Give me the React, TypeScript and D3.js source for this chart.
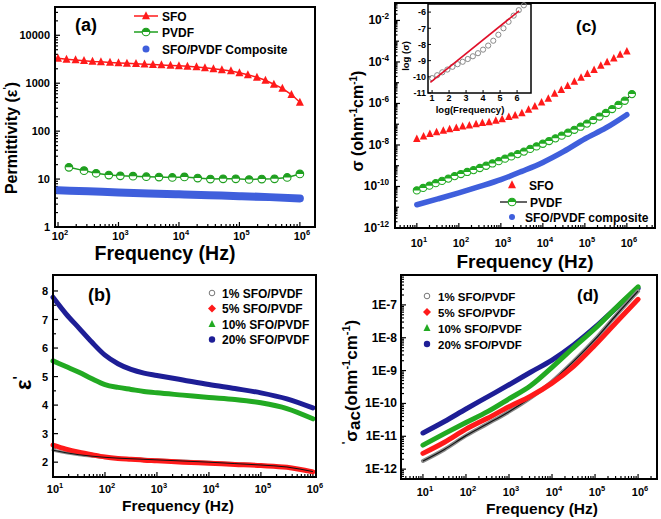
import React from "react";
import * as d3 from "d3";

const FONT = "'Liberation Sans', Arial, Helvetica, sans-serif";
const RED = "#ff1a1a";
const GREEN = "#1f9f1f";
const GREEN2 = "#22aa22";
const NAVY = "#1e1e96";
const BLUE = "#3f5fdc";

// ---------- (a) permittivity ----------
const aSfoLogF = [2.0, 2.14, 2.29, 2.43, 2.57, 2.71, 2.86, 3.0, 3.14, 3.29, 3.43, 3.57, 3.71, 3.86, 4.0, 4.14, 4.29, 4.43, 4.57, 4.71, 4.86, 5.0, 5.14, 5.29, 5.43, 5.57, 5.71, 5.86, 6.0];
const aSfoEps = [3300, 3150, 3050, 2950, 2850, 2800, 2720, 2650, 2600, 2550, 2500, 2450, 2400, 2350, 2300, 2250, 2180, 2100, 2000, 1900, 1800, 1650, 1500, 1330, 1150, 950, 780, 580, 400];
const aPvdfLogF = [2.18, 2.43, 2.63, 2.84, 3.03, 3.24, 3.46, 3.67, 3.89, 4.09, 4.31, 4.52, 4.73, 4.94, 5.16, 5.37, 5.58, 5.79, 6.0];
const aPvdfEps = [17.6, 15, 13.2, 12.1, 11.7, 11.5, 11.2, 11, 10.8, 11.1, 10.5, 10, 10.1, 10.1, 9.8, 10, 10.1, 10.8, 12.8];
const aCompLogF = [2, 2.5, 3, 3.5, 4, 4.5, 5, 5.5, 6];
const aCompEps = [5.85, 5.55, 5.25, 5.0, 4.8, 4.6, 4.4, 4.2, 3.95];
const aLegend = ["SFO", "PVDF", "SFO/PVDF Composite"];

// ---------- (c) conductivity ----------
const cSfoLogF = [1.0, 1.16, 1.31, 1.47, 1.63, 1.78, 1.94, 2.09, 2.25, 2.41, 2.56, 2.72, 2.88, 3.03, 3.19, 3.34, 3.5, 3.66, 3.81, 3.97, 4.13, 4.28, 4.44, 4.59, 4.75, 4.91, 5.06, 5.22, 5.38, 5.53, 5.69, 5.84, 6.0];
const cSfoLogS = [-7.71, -7.59, -7.47, -7.38, -7.31, -7.23, -7.17, -7.1, -7.06, -6.99, -6.94, -6.9, -6.83, -6.75, -6.65, -6.57, -6.46, -6.3, -6.14, -5.95, -5.76, -5.53, -5.34, -5.15, -4.95, -4.76, -4.57, -4.38, -4.18, -4.01, -3.83, -3.65, -3.49];
const cPvdfLogF = [1.0, 1.15, 1.3, 1.45, 1.6, 1.75, 1.9, 2.05, 2.2, 2.35, 2.5, 2.65, 2.8, 2.95, 3.1, 3.25, 3.4, 3.55, 3.7, 3.85, 4.0, 4.15, 4.3, 4.45, 4.6, 4.75, 4.9, 5.05, 5.2, 5.35, 5.5, 5.65, 5.8, 5.95, 6.12];
const cPvdfLogS = [-10.19, -10.07, -9.96, -9.84, -9.73, -9.62, -9.5, -9.4, -9.3, -9.21, -9.11, -9.0, -8.89, -8.78, -8.66, -8.55, -8.44, -8.32, -8.19, -8.07, -7.94, -7.81, -7.68, -7.55, -7.41, -7.27, -7.12, -6.97, -6.8, -6.63, -6.46, -6.27, -6.07, -5.87, -5.55];
const cCompLogF = [1, 1.5, 2, 2.5, 3, 3.5, 4, 4.5, 5, 5.5, 6];
const cCompLogS = [-10.88, -10.6, -10.31, -10.0, -9.67, -9.27, -8.84, -8.31, -7.71, -7.18, -6.54];
const cLegend = ["SFO", "PVDF", "SFO/PVDF composite"];

// inset
const inLogF = [1.0, 1.3, 1.6, 1.9, 2.2, 2.5, 2.8, 3.1, 3.4, 3.7, 4.0, 4.3, 4.6, 4.9, 5.2, 5.5, 5.8, 6.1, 6.4];
const inLogS = [-10.08, -9.9, -9.72, -9.55, -9.38, -9.22, -9.07, -8.9, -8.73, -8.54, -8.32, -8.07, -7.77, -7.4, -7.0, -6.6, -6.22, -5.88, -5.58];
const inFitLogF = [0.9, 6.12];
const inFitLogS = [-10.35, -5.92];
const inXTicks = [1, 2, 3, 4, 5, 6];
const inYTicks = [-11, -10, -9, -8, -7, -6];

// ---------- (b) epsilon' ----------
const bLogF = [1, 1.25, 1.5, 1.75, 2, 2.25, 2.5, 2.75, 3, 3.5, 4, 4.5, 5, 5.5, 6];
const b1 = [2.42, 2.33, 2.26, 2.21, 2.17, 2.14, 2.12, 2.1, 2.08, 2.04, 2.0, 1.95, 1.9, 1.83, 1.67];
const b5 = [2.6, 2.46, 2.35, 2.26, 2.18, 2.13, 2.1, 2.07, 2.05, 2.0, 1.96, 1.92, 1.88, 1.82, 1.66];
const b10 = [5.55, 5.35, 5.15, 4.92, 4.72, 4.62, 4.55, 4.48, 4.43, 4.35, 4.27, 4.2, 4.08, 3.88, 3.52];
const b20 = [7.78, 7.2, 6.7, 6.2, 5.75, 5.45, 5.25, 5.12, 5.04, 4.88, 4.72, 4.58, 4.43, 4.22, 3.9];
const bYTicks = [2, 3, 4, 5, 6, 7, 8];
const compLegend = ["1% SFO/PVDF", "5% SFO/PVDF", "10% SFO/PVDF", "20% SFO/PVDF"];

// ---------- (d) sigma_ac ----------
const dLogF = [1, 1.5, 2, 2.5, 3, 3.5, 4, 4.5, 5, 5.5, 6];
const d1 = [-11.75, -11.4, -10.98, -10.62, -10.25, -9.83, -9.33, -8.72, -8.05, -7.3, -6.58];
const d5 = [-11.52, -11.18, -10.78, -10.45, -10.1, -9.78, -9.38, -8.87, -8.22, -7.52, -6.83];
const d10 = [-11.27, -10.92, -10.58, -10.25, -9.86, -9.46, -8.9, -8.3, -7.72, -7.07, -6.45];
const d20 = [-10.9, -10.55, -10.17, -9.8, -9.43, -9.05, -8.68, -8.22, -7.68, -7.08, -6.5];
const dYTicks = [-12, -11, -10, -9, -8, -7];

// ---------- helpers ----------
function logTicks(lo: number, hi: number) {
  const majors: number[] = [];
  const minors: number[] = [];
  const a = Math.floor(Math.log10(lo)) - 1;
  const b = Math.ceil(Math.log10(hi)) + 1;
  for (let d = a; d <= b; d++) {
    const p = Math.pow(10, d);
    if (p >= lo * 0.999 && p <= hi * 1.001) majors.push(d);
    for (let k = 2; k <= 9; k++) {
      const v = k * p;
      if (v > lo && v < hi) minors.push(v);
    }
  }
  return { majors, minors };
}

function XTicks({ scale, y0, vals, len }: any) {
  return (
    <g>
      {vals.map((v: number, i: number) => (
        <line key={i} x1={scale(v)} x2={scale(v)} y1={y0} y2={y0 - len} stroke="#000" strokeWidth={1.2} />
      ))}
    </g>
  );
}
function YTicks({ scale, x0, vals, len }: any) {
  return (
    <g>
      {vals.map((v: number, i: number) => (
        <line key={i} x1={x0} x2={x0 + len} y1={scale(v)} y2={scale(v)} stroke="#000" strokeWidth={1.2} />
      ))}
    </g>
  );
}
function Pow({ x, y, exp, size, anchor }: any) {
  return (
    <text x={x} y={y} fontSize={size} textAnchor={anchor || "middle"}>
      10
      <tspan dy={-size * 0.45} fontSize={size * 0.68}>
        {exp}
      </tspan>
    </text>
  );
}
function Tri({ cx, cy, s, color }: any) {
  return <path d={`M${cx},${cy - s * 0.58}L${cx + s / 2},${cy + s * 0.42}L${cx - s / 2},${cy + s * 0.42}Z`} fill={color} />;
}
function Half({ cx, cy, r, color }: any) {
  return (
    <g>
      <circle cx={cx} cy={cy} r={r} fill="#fff" stroke={color} strokeWidth={1.1} />
      <path d={`M${cx - r},${cy}A${r},${r} 0 0 1 ${cx + r},${cy}Z`} fill={color} />
    </g>
  );
}
function Frame({ L, R, T, B }: any) {
  return <rect x={L} y={T} width={R - L} height={B - T} fill="none" stroke="#000" strokeWidth={2} />;
}
const smooth = (pts: [number, number][]) => d3.line().curve(d3.curveMonotoneX)(pts) || "";
const straight = (pts: [number, number][]) => d3.line()(pts) || "";

// ---------- panel (a) ----------
function PanelA() {
  const L = 55, R = 315, T = 7, B = 227;
  const x = d3.scaleLog().domain([10 ** 1.95, 10 ** 6.25]).range([L, R]);
  const y = d3.scaleLog().domain([1, 10 ** 4.59]).range([B, T]);
  const xt = logTicks(10 ** 1.95, 10 ** 6.25);
  const yt = logTicks(1, 10 ** 4.59);
  const sfo: [number, number][] = aSfoLogF.map((f, i) => [x(10 ** f), y(aSfoEps[i])]);
  const pv: [number, number][] = aPvdfLogF.map((f, i) => [x(10 ** f), y(aPvdfEps[i])]);
  const cp: [number, number][] = aCompLogF.map((f, i) => [x(10 ** f), y(aCompEps[i])]);
  return (
    <g>
      <XTicks scale={x} y0={B} vals={xt.majors.map((e) => 10 ** e)} len={5} />
      <XTicks scale={x} y0={B} vals={xt.minors} len={3} />
      <YTicks scale={y} x0={L} vals={yt.majors.map((e) => 10 ** e)} len={5} />
      <YTicks scale={y} x0={L} vals={yt.minors} len={3} />
      <path d={smooth(cp)} stroke={BLUE} strokeWidth={8} fill="none" strokeLinecap="round" />
      <path d={straight(pv)} stroke={GREEN} strokeWidth={1.5} fill="none" />
      {pv.map((p, i) => <Half key={i} cx={p[0]} cy={p[1]} r={3.8} color={GREEN} />)}
      <path d={straight(sfo)} stroke={RED} strokeWidth={1.5} fill="none" />
      {sfo.map((p, i) => <Tri key={i} cx={p[0]} cy={p[1]} s={8} color={RED} />)}
      <Frame L={L} R={R} T={T} B={B} />
      {xt.majors.map((e) => <Pow key={e} x={x(10 ** e) + 2} y={240} exp={e} size={11} />)}
      {yt.majors.map((e) => (
        <text key={e} x={50} y={y(10 ** e) + 4} fontSize={11} textAnchor="end">{String(10 ** e)}</text>
      ))}
      <text x={165} y={260} fontSize={19.5} textAnchor="middle">Frequency (Hz)</text>
      <text transform="translate(17,138) rotate(-90)" fontSize={16} textAnchor="middle">
        Permittivity (ε<tspan dy={-6} fontSize={10}>'</tspan><tspan dy={6}>)</tspan>
      </text>
      <text x={75} y={31} fontSize={18}>(a)</text>
      {/* legend */}
      <line x1={134} x2={158} y1={16} y2={16} stroke={RED} strokeWidth={1.5} />
      <Tri cx={146} cy={16} s={8} color={RED} />
      <line x1={134} x2={158} y1={32} y2={32} stroke={GREEN} strokeWidth={1.5} />
      <Half cx={146} cy={32} r={3.8} color={GREEN} />
      <circle cx={146} cy={49} r={3.5} fill={BLUE} />
      {aLegend.map((t, i) => (
        <text key={t} x={162} y={[16, 32, 49][i] + 4.5} fontSize={12}>{t}</text>
      ))}
    </g>
  );
}

// ---------- panel (c) ----------
function PanelC() {
  const L = 395, R = 655, T = 3, B = 228;
  const x = d3.scaleLog().domain([10 ** 0.48, 10 ** 6.67]).range([L, R]);
  const y = d3.scaleLog().domain([1e-12, 10 ** -1.16]).range([B, T]);
  const xt = logTicks(10 ** 0.48, 10 ** 6.67);
  const yt = logTicks(1e-12, 10 ** -1.16);
  const yLab = yt.majors.filter((e) => e % 2 === 0);
  const yOdd = yt.majors.filter((e) => e % 2 !== 0);
  const sfo: [number, number][] = cSfoLogF.map((f, i) => [x(10 ** f), y(10 ** cSfoLogS[i])]);
  const pv: [number, number][] = cPvdfLogF.map((f, i) => [x(10 ** f), y(10 ** cPvdfLogS[i])]);
  const cp: [number, number][] = cCompLogF.map((f, i) => [x(10 ** f), y(10 ** cCompLogS[i])]);
  // inset
  const iL = 428, iR = 531, iT = 4, iB = 93;
  const ix = d3.scaleLinear().domain([0.76, 6.82]).range([iL, iR]);
  const iy = d3.scaleLinear().domain([-11, -5.5]).range([iB, iT]);
  return (
    <g>
      <XTicks scale={x} y0={B} vals={xt.majors.map((e) => 10 ** e)} len={5} />
      <XTicks scale={x} y0={B} vals={xt.minors} len={3} />
      <YTicks scale={y} x0={L} vals={yLab.map((e) => 10 ** e)} len={5} />
      <YTicks scale={y} x0={L} vals={yOdd.map((e) => 10 ** e)} len={4} />
      <YTicks scale={y} x0={L} vals={yt.minors} len={2.5} />
      <path d={smooth(cp)} stroke={BLUE} strokeWidth={5.5} fill="none" strokeLinecap="round" />
      <path d={straight(pv)} stroke="#111" strokeWidth={1.1} fill="none" />
      {pv.map((p, i) => <Half key={i} cx={p[0]} cy={p[1]} r={3.6} color={GREEN2} />)}
      {sfo.map((p, i) => <Tri key={i} cx={p[0]} cy={p[1]} s={7.5} color={RED} />)}
      <Frame L={L} R={R} T={T} B={B} />
      {xt.majors.map((e) => <Pow key={e} x={x(10 ** e) + 2} y={247} exp={e} size={11} />)}
      {yLab.map((e) => <Pow key={e} x={389} y={y(10 ** e) + 4} exp={e} size={12} anchor="end" />)}
      <text x={525} y={268} fontSize={19} textAnchor="middle">Frequency (Hz)</text>
      <text transform="translate(363,121) rotate(-90)" fontSize={16} textAnchor="middle">
        σ (ohm<tspan dy={-6} fontSize={10}>-1</tspan><tspan dy={6}>cm</tspan>
        <tspan dy={-6} fontSize={10}>-1</tspan><tspan dy={6}>)</tspan>
      </text>
      <text x={576} y={32} fontSize={17}>(c)</text>
      {/* legend */}
      <Tri cx={512} cy={185} s={8} color={RED} />
      <line x1={500} x2={527} y1={202} y2={202} stroke="#111" strokeWidth={1.3} />
      <Half cx={512} cy={202} r={3.8} color={GREEN2} />
      <circle cx={512} cy={217} r={3} fill={BLUE} />
      {cLegend.map((t, i) => (
        <text key={t} x={[529, 530, 525][i]} y={[185, 202, 217][i] + 4.5} fontSize={12}>{t}</text>
      ))}
      {/* inset */}
      <rect x={iL} y={iT} width={iR - iL} height={iB - iT} fill="#fff" stroke="#000" strokeWidth={1.5} />
      {inXTicks.map((v) => (
        <line key={v} x1={ix(v)} x2={ix(v)} y1={iB} y2={iB - 3} stroke="#000" strokeWidth={1} />
      ))}
      {inYTicks.map((v) => (
        <line key={v} x1={iL} x2={iL + 3} y1={iy(v)} y2={iy(v)} stroke="#000" strokeWidth={1} />
      ))}
      {inLogF.map((f, i) => (
        <circle key={i} cx={ix(f)} cy={iy(inLogS[i])} r={2.6} fill="none" stroke="#8a8a8a" strokeWidth={1} />
      ))}
      <path d={straight(inFitLogF.map((f, i) => [ix(f), iy(inFitLogS[i])] as [number, number]))} stroke="#e0102a" strokeWidth={1.6} fill="none" />
      {inXTicks.map((v) => (
        <text key={v} x={ix(v)} y={100.5} fontSize={9} textAnchor="middle">{v}</text>
      ))}
      {inYTicks.map((v) => (
        <text key={v} x={426} y={iy(v) + 3.3} fontSize={9} textAnchor="end">{v}</text>
      ))}
      <text x={470} y={113} fontSize={9.5} textAnchor="middle">log(Frequency)</text>
      <text transform="translate(409,56) rotate(-90)" fontSize={9.5} textAnchor="middle">log (σ)</text>
    </g>
  );
}

// ---------- panel (b) ----------
function PanelB() {
  const L = 53, R = 316, T = 275, B = 477;
  const x = d3.scaleLog().domain([10, 10 ** 6.06]).range([L, R]);
  const y = d3.scaleLinear().domain([1.48, 8.56]).range([B, T]);
  const xt = logTicks(10, 10 ** 6.06);
  const pts = (vals: number[]) => bLogF.map((f, i) => [x(10 ** f), y(vals[i])] as [number, number]);
  const yMin = bYTicks.slice(0, -1).map((v) => v + 0.5);
  const ly = [293, 308.5, 324, 339.5];
  return (
    <g>
      <XTicks scale={x} y0={B} vals={xt.majors.map((e) => 10 ** e)} len={5} />
      <XTicks scale={x} y0={B} vals={xt.minors} len={3} />
      <YTicks scale={y} x0={L} vals={bYTicks} len={5} />
      <YTicks scale={y} x0={L} vals={yMin} len={3} />
      <path d={smooth(pts(b20))} stroke={NAVY} strokeWidth={5} fill="none" strokeLinecap="round" />
      <path d={smooth(pts(b10))} stroke={GREEN2} strokeWidth={5} fill="none" strokeLinecap="round" />
      <path d={smooth(pts(b1))} stroke="#888" strokeWidth={3} fill="none" strokeLinecap="round" />
      <path d={smooth(pts(b5))} stroke={RED} strokeWidth={5} fill="none" strokeLinecap="round" />
      <path d={smooth(pts(b1))} stroke="#111" strokeWidth={1} fill="none" />
      <Frame L={L} R={R} T={T} B={B} />
      {xt.majors.map((e) => <Pow key={e} x={x(10 ** e) + 2} y={492.5} exp={e} size={11} />)}
      {bYTicks.map((v) => (
        <text key={v} x={48} y={y(v) + 4} fontSize={11} textAnchor="end">{v}</text>
      ))}
      <text x={178} y={511} fontSize={15.5} textAnchor="middle">Frequency (Hz)</text>
      <text transform="translate(31,383) rotate(-90)" fontSize={22} textAnchor="middle">
        ε<tspan dy={-8} fontSize={14}>'</tspan>
      </text>
      <text x={88} y={301} fontSize={18}>(b)</text>
      <circle cx={212} cy={ly[0]} r={2.8} fill="#fff" stroke="#777" strokeWidth={1} />
      <path d={`M212,${ly[1] - 4}L216,${ly[1]}L212,${ly[1] + 4}L208,${ly[1]}Z`} fill={RED} />
      <Tri cx={212} cy={ly[2]} s={7} color={GREEN2} />
      <circle cx={212} cy={ly[3]} r={3.2} fill={NAVY} />
      {compLegend.map((t, i) => (
        <text key={t} x={222} y={ly[i] + 4.5} fontSize={12}>{t}</text>
      ))}
    </g>
  );
}

// ---------- panel (d) ----------
function PanelD() {
  const L = 401, R = 657, T = 275, B = 479;
  const x = d3.scaleLog().domain([10 ** 0.49, 10 ** 6.44]).range([L, R]);
  const y = d3.scaleLog().domain([10 ** -12.3, 10 ** -6.09]).range([B, T]);
  const xt = logTicks(10 ** 0.49, 10 ** 6.44);
  const yt = logTicks(10 ** -12.3, 10 ** -6.09);
  const pts = (vals: number[]) => dLogF.map((f, i) => [x(10 ** f), y(10 ** vals[i])] as [number, number]);
  const ly = [296, 312, 328, 344];
  return (
    <g>
      <XTicks scale={x} y0={B} vals={xt.majors.map((e) => 10 ** e)} len={5} />
      <XTicks scale={x} y0={B} vals={xt.minors} len={3} />
      <YTicks scale={y} x0={L} vals={yt.majors.map((e) => 10 ** e)} len={5} />
      <YTicks scale={y} x0={L} vals={yt.minors} len={3} />
      <path d={smooth(pts(d20))} stroke={NAVY} strokeWidth={5} fill="none" strokeLinecap="round" />
      <path d={smooth(pts(d10))} stroke={GREEN2} strokeWidth={5} fill="none" strokeLinecap="round" />
      <path d={smooth(pts(d1))} stroke="#888" strokeWidth={4} fill="none" strokeLinecap="round" />
      <path d={smooth(pts(d1))} stroke="#111" strokeWidth={1.2} fill="none" />
      <path d={smooth(pts(d5))} stroke={RED} strokeWidth={5} fill="none" strokeLinecap="round" />
      <Frame L={L} R={R} T={T} B={B} />
      {xt.majors.map((e) => <Pow key={e} x={x(10 ** e) + 2} y={496} exp={e} size={11} />)}
      {dYTicks.map((e) => (
        <text key={e} x={397} y={y(10 ** e) + 4} fontSize={12} textAnchor="end">{`1E${e}`}</text>
      ))}
      <text x={542} y={514} fontSize={15.5} textAnchor="middle">Frequency (Hz)</text>
      <text transform="translate(357,382) rotate(-90)" fontSize={17} textAnchor="middle">
        <tspan dy={-7} fontSize={11}>'</tspan>
        <tspan dy={7}>σ</tspan>
        <tspan dy={3}>ac</tspan>
        <tspan dy={-3}>(ohm</tspan>
        <tspan dy={-7} fontSize={11}>-1</tspan>
        <tspan dy={7}>cm</tspan>
        <tspan dy={-7} fontSize={11}>-1</tspan>
        <tspan dy={7}>)</tspan>
      </text>
      <text x={577} y={301} fontSize={17}>(d)</text>
      <circle cx={427} cy={ly[0]} r={2.8} fill="#fff" stroke="#777" strokeWidth={1} />
      <path d={`M427,${ly[1] - 4}L431,${ly[1]}L427,${ly[1] + 4}L423,${ly[1]}Z`} fill={RED} />
      <Tri cx={427} cy={ly[2]} s={7} color={GREEN2} />
      <circle cx={427} cy={ly[3]} r={3.2} fill={NAVY} />
      {compLegend.map((t, i) => (
        <text key={t} x={438} y={ly[i] + 4.5} fontSize={11.5}>{t}</text>
      ))}
    </g>
  );
}

export default function App() {
  return (
    <svg
      width={661}
      height={519}
      style={{ position: "absolute", left: 0, top: 0, background: "#fff" }}
      fontFamily={FONT}
      fontWeight="bold"
    >
      <rect x={0} y={0} width={661} height={519} fill="#fff" />
      <PanelA />
      <PanelC />
      <PanelB />
      <PanelD />
    </svg>
  );
}
